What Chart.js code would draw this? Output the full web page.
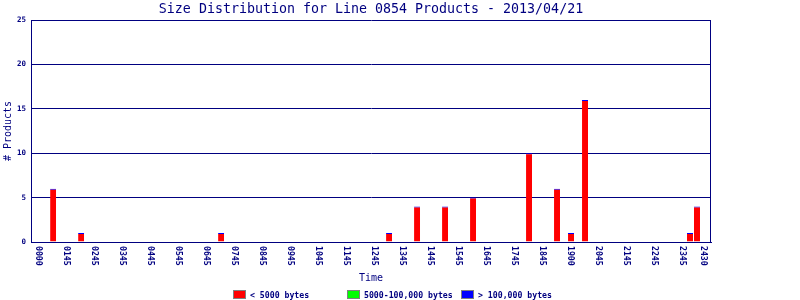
<!DOCTYPE html>
<html>
<head>
<meta charset="utf-8">
<script src="https://cdn.jsdelivr.net/npm/chart.js@4/dist/chart.umd.min.js"></script>
<style>
html,body{margin:0;padding:0;background:#ffffff;}
#wrap{width:800px;height:300px;}
</style>
</head>
<body>
<div id="wrap"><canvas id="c" width="800" height="300"></canvas></div>
<script>
// ---- data ----
const chartTitle = 'Size Distribution for Line 0854 Products - 2013/04/21';
const xAxisTitle = 'Time';
const yAxisTitle = '# Products';
const seriesNames = ['< 5000 bytes', '5000-100,000 bytes', '> 100,000 bytes'];
const barHours   = [0.5, 1.5, 6.5, 12.5, 13.5, 14.5, 15.5, 17.5, 18.5, 19, 19.5, 23.25, 23.5];
const sizeSmall  = [6, 1, 1, 1, 4, 4, 5, 10, 6, 1, 16, 1, 4];
const sizeMedium = [0, 0, 0, 0, 0, 0, 0, 0, 0, 0, 0, 0, 0];
const sizeLarge  = [0, 0, 0, 0, 0, 0, 0, 0, 0, 0, 0, 0, 0];
const tickHours  = [0, 1, 2, 3, 4, 5, 6, 7, 8, 9, 10, 11, 12, 13, 14, 15, 16, 17, 18, 19, 20, 21, 22, 23, 23.75];
const tickLabels = ['0000','0145','0245','0345','0445','0545','0645','0745','0845','0945','1045','1145','1245',
                    '1345','1445','1545','1645','1745','1845','1900','2045','2145','2245','2345','2430'];

// ---- styles ----
const NAVY = '#000080';
const MONO = '"DejaVu Sans Mono", "Liberation Mono", monospace';
const seriesColors = ['#ff0000', '#00ff00', '#0000ff'];

function pts(vals) { return barHours.map((h, i) => ({ x: h, y: vals[i] })); }

const decorPlugin = {
  id: 'decor',
  afterDraw(chart) {
    const ctx = chart.ctx;
    const a = chart.chartArea;
    const xs = chart.scales.x;
    ctx.save();
    // right border
    ctx.strokeStyle = NAVY; ctx.lineWidth = 1;
    ctx.beginPath();
    ctx.moveTo(Math.round(a.right) - 0.5, Math.round(a.top) + 0.5);
    ctx.lineTo(Math.round(a.right) - 0.5, Math.round(a.bottom) + 0.5);
    ctx.stroke();
    // title
    ctx.fillStyle = NAVY;
    ctx.font = '13.3px ' + MONO;
    ctx.textAlign = 'center'; ctx.textBaseline = 'alphabetic';
    ctx.fillText(chartTitle, (a.left + a.right) / 2, 13);
    // x tick labels, rotated clockwise
    ctx.font = 'bold 8.2px ' + MONO;
    ctx.textAlign = 'left'; ctx.textBaseline = 'middle';
    xs.ticks.forEach((t, i) => {
      const px = xs.getPixelForValue(t.value);
      ctx.save();
      ctx.translate(px - 1, a.bottom + 4);
      ctx.rotate(Math.PI / 2);
      ctx.fillText(tickLabels[i], 0, 0);
      ctx.restore();
    });
    // legend
    ctx.font = 'bold 8.2px ' + MONO;
    ctx.textBaseline = 'alphabetic'; ctx.textAlign = 'left';
    chart.data.datasets.forEach((ds, i) => {
      const x0 = 233 + 114 * i;
      ctx.fillStyle = ds.backgroundColor;
      ctx.fillRect(x0, 290, 13, 9);
      ctx.strokeStyle = '#808080';
      ctx.strokeRect(x0 + 0.5, 290.5, 12, 8);
      ctx.fillStyle = NAVY;
      ctx.fillText(ds.label, x0 + 17, 297.5);
    });
    ctx.restore();
  }
};

new Chart(document.getElementById('c'), {
  type: 'bar',
  data: {
    datasets: [
      { label: seriesNames[0], data: pts(sizeSmall), backgroundColor: seriesColors[0],
        borderColor: seriesColors[2], borderWidth: { top: 1, left: 0, right: 0, bottom: 0 },
        borderSkipped: false, inflateAmount: 0 },
      { label: seriesNames[1], data: pts(sizeMedium), backgroundColor: seriesColors[1], borderWidth: 0, inflateAmount: 0 },
      { label: seriesNames[2], data: pts(sizeLarge), backgroundColor: seriesColors[2], borderWidth: 0, inflateAmount: 0 }
    ]
  },
  options: {
    responsive: false,
    animation: false,
    devicePixelRatio: 1,
    barThickness: 6,
    layout: { padding: { top: 20, right: 89, bottom: 0, left: 0 } },
    plugins: {
      legend: { display: false },
      title: { display: false },
      tooltip: { enabled: false }
    },
    scales: {
      x: {
        type: 'linear', stacked: true, offset: false,
        min: -0.29, max: 24,
        afterBuildTicks: (s) => { s.ticks = tickHours.map(v => ({ value: v })); },
        ticks: { display: false },
        grid: { display: false, drawTicks: false, offset: false },
        border: { display: true, color: NAVY, width: 1 },
        title: { display: true, text: xAxisTitle, color: NAVY,
                 font: { family: MONO, size: 10 }, padding: { top: 0, bottom: 16 } },
        afterFit: (s) => { s.height = 58; }
      },
      y: {
        stacked: true, min: 0, max: 25,
        ticks: { stepSize: 5, color: NAVY, padding: 5,
                 font: { family: MONO, size: 7.5, weight: 'bold' } },
        grid: { color: NAVY, lineWidth: 1, drawTicks: false },
        border: { display: true, color: NAVY, width: 1 },
        title: { display: true, text: yAxisTitle, color: NAVY,
                 font: { family: MONO, size: 10 }, padding: { top: 2, bottom: 0 } },
        afterFit: (s) => { s.width = 31; }
      }
    }
  },
  plugins: [decorPlugin]
});
</script>
</body>
</html>
